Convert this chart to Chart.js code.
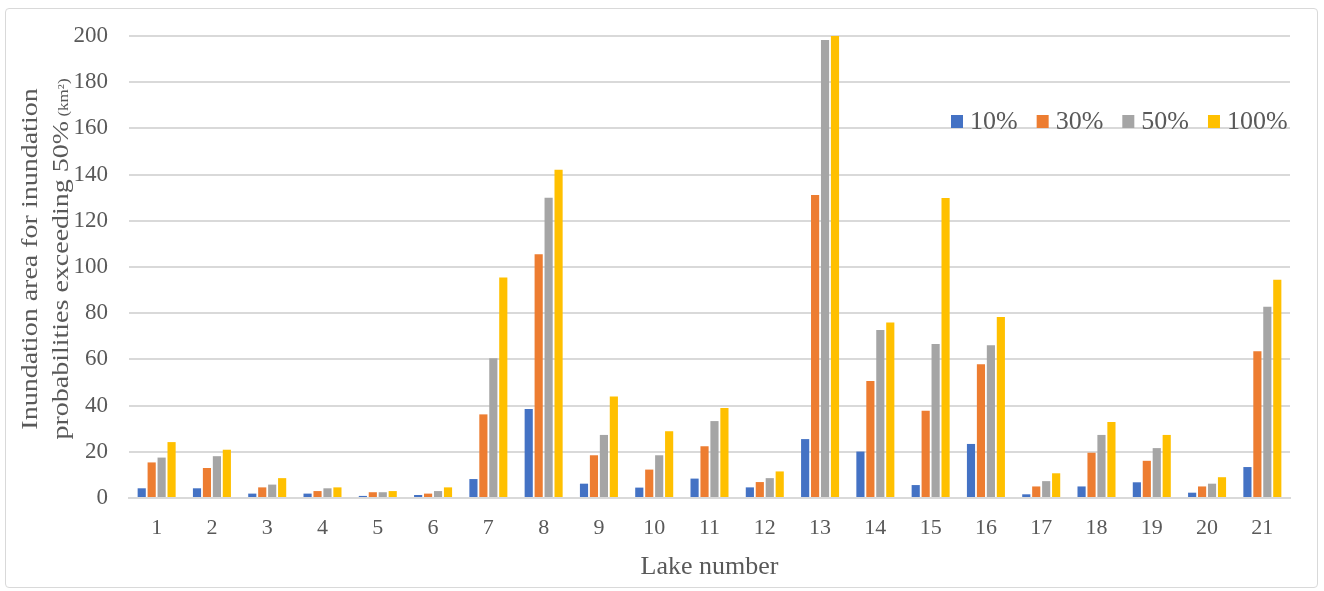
<!DOCTYPE html>
<html>
<head>
<meta charset="utf-8">
<script src="https://cdn.jsdelivr.net/npm/chart.js@4.4.0/dist/chart.umd.min.js"></script>
<style>
  body { margin: 0; background: #fff; }
  #frame { position: absolute; left: 5px; top: 8px; width: 1311px; height: 578px; border: 1px solid #d9d9d9; border-radius: 4px; }
  #myChart { position: absolute; left: 0; top: 0; }
</style>
</head>
<body>
<div id="frame"></div>
<canvas id="myChart" width="1324" height="591"></canvas>
<script>
// lake numbers on the x axis
const lakes = ['1','2','3','4','5','6','7','8','9','10','11','12','13','14','15','16','17','18','19','20','21'];

// inundation area (km2) per lake, one list per probability
const p10  = [4.2, 4.2, 1.9, 1.9, 0.9, 1.3, 8.2, 38.5, 6.2, 4.5, 8.4, 4.6, 25.5, 20.1, 5.6, 23.4, 1.6, 5.0, 6.8, 2.3, 13.4];
const p30  = [15.4, 13.0, 4.6, 3.0, 2.5, 1.9, 36.2, 105.5, 18.5, 12.3, 22.4, 6.9, 131.2, 50.6, 37.8, 57.9, 5.0, 19.6, 16.1, 5.0, 63.5];
const p50  = [17.5, 18.1, 5.8, 4.2, 2.5, 3.0, 60.5, 130.0, 27.3, 18.5, 33.3, 8.6, 198.3, 72.7, 66.7, 66.1, 7.3, 27.3, 21.6, 6.2, 82.8];
const p100 = [24.2, 20.9, 8.6, 4.6, 3.0, 4.6, 95.5, 142.1, 43.9, 28.9, 39.0, 11.5, 200.5, 76.0, 129.9, 78.4, 10.7, 32.9, 27.3, 9.0, 94.5];

const seriesNames = ['10%', '30%', '50%', '100%'];
const yTicks = [0, 20, 40, 60, 80, 100, 120, 140, 160, 180, 200];

const serif = '"Liberation Serif", "Times New Roman", serif';
const textColor = '#595959';

// legend drawn inside the plot, top right
const insideLegend = {
  id: 'insideLegend',
  afterDraw(chart) {
    const ctx = chart.ctx;
    let x = 951;
    const y = 121;
    ctx.save();
    ctx.font = '26px ' + serif;
    ctx.textBaseline = 'middle';
    chart.data.datasets.forEach(ds => {
      ctx.fillStyle = ds.backgroundColor;
      ctx.fillRect(x, y - 6, 12, 13);
      ctx.fillStyle = textColor;
      ctx.fillText(ds.label, x + 19, y + 1);
      x += 19 + ctx.measureText(ds.label).width + 19;
    });
    ctx.restore();
  }
};

// two line y title, the unit is in a smaller font
const yTitle = {
  id: 'yTitle',
  afterDraw(chart) {
    const ctx = chart.ctx;
    const cy = 259;
    ctx.save();
    ctx.fillStyle = textColor;
    ctx.textBaseline = 'alphabetic';

    ctx.save();
    ctx.translate(36.5, cy);
    ctx.scale(0.85, 1);
    ctx.rotate(-Math.PI / 2);
    ctx.font = '28px ' + serif;
    ctx.textAlign = 'center';
    ctx.fillText('Inundation area for inundation', 0, 0);
    ctx.restore();

    ctx.save();
    ctx.translate(68, cy);
    ctx.scale(0.85, 1);
    ctx.rotate(-Math.PI / 2);
    ctx.textAlign = 'left';
    const main = 'probabilities exceeding 50%';
    const unit = ' (km\u00b2)';
    ctx.font = '28px ' + serif;
    const w1 = ctx.measureText(main).width;
    ctx.font = '17px ' + serif;
    const w2 = ctx.measureText(unit).width;
    const start = -(w1 + w2) / 2;
    ctx.font = '28px ' + serif;
    ctx.fillText(main, start, 0);
    ctx.font = '17px ' + serif;
    ctx.fillText(unit, start + w1, 0);
    ctx.restore();

    ctx.restore();
  }
};

const ctx = document.getElementById('myChart');

myChart = new Chart(ctx, {
  type: 'bar',
  data: {
    labels: lakes,
    datasets: [
      { label: seriesNames[0], data: p10,  backgroundColor: '#4472C4' },
      { label: seriesNames[1], data: p30,  backgroundColor: '#ED7D31' },
      { label: seriesNames[2], data: p50,  backgroundColor: '#A5A5A5' },
      { label: seriesNames[3], data: p100, backgroundColor: '#FFC000' }
    ]
  },
  options: {
    responsive: false,
    animation: false,
    categoryPercentage: 0.72,
    barPercentage: 0.82,
    layout: { padding: { top: 36, right: 34, left: 0, bottom: 0 } },
    plugins: {
      legend: { display: false },
      tooltip: { enabled: false }
    },
    scales: {
      x: {
        grid: { display: false },
        border: { color: '#d9d9d9', width: 2 },
        ticks: { color: textColor, font: { family: serif, size: 22 }, padding: 9 },
        title: {
          display: true,
          text: 'Lake number',
          color: textColor,
          font: { family: serif, size: 26 },
          padding: { top: 0, bottom: 8 }
        },
        afterFit(scale) { scale.height = 93; }
      },
      y: {
        min: 0,
        max: 200,
        afterBuildTicks(scale) { scale.ticks = yTicks.map(v => ({ value: v })); },
        grid: { color: '#d9d9d9', lineWidth: 2, drawTicks: false },
        border: { display: false },
        ticks: { color: textColor, font: { family: serif, size: 23 }, padding: 21 },
        afterFit(scale) { scale.width = 129; }
      }
    }
  },
  plugins: [insideLegend, yTitle]
});
</script>
</body>
</html>
